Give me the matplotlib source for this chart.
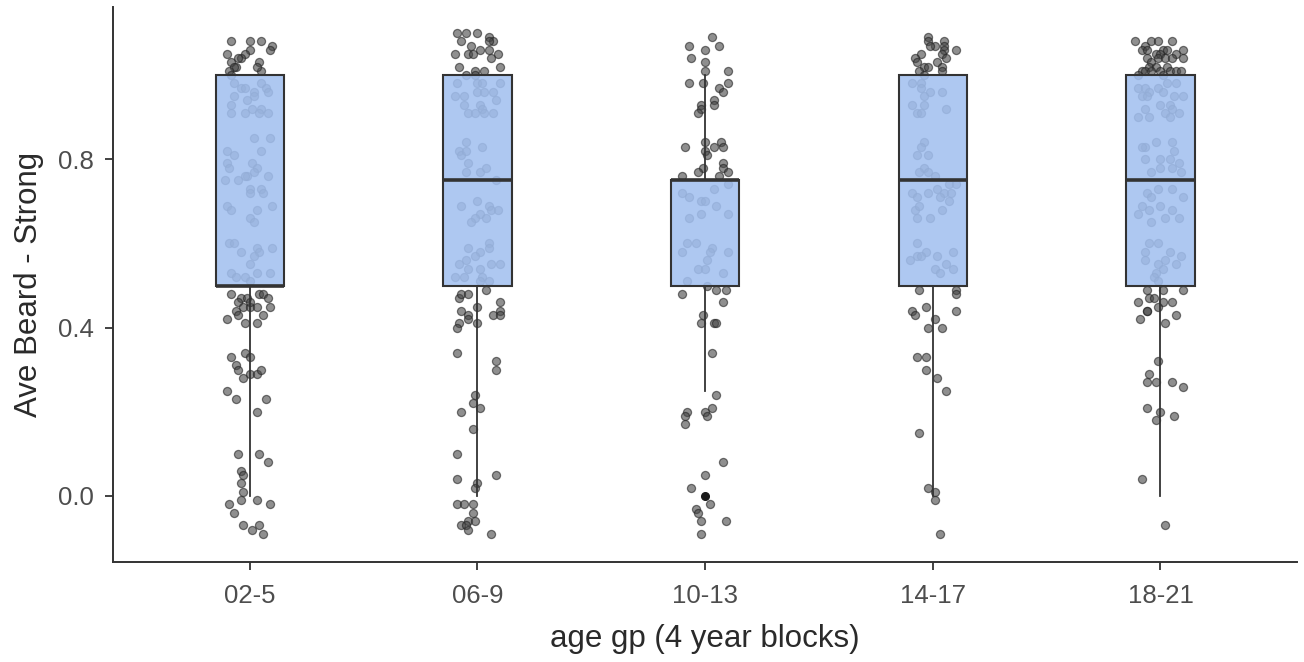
import matplotlib
matplotlib.use("Agg")
import matplotlib.pyplot as plt

plt.rcParams['font.family'] = ['Liberation Sans', 'DejaVu Sans']

# categories and box statistics
groups = ["02-5", "06-9", "10-13", "14-17", "18-21"]
q1s = [0.5, 0.5, 0.5, 0.5, 0.5]
medians = [0.5, 0.75, 0.75, 0.75, 0.75]
q3s = [1.0, 1.0, 0.75, 1.0, 1.0]
whisk_lo = [0.0, 0.0, 0.25, 0.0, 0.0]
whisk_hi = [1.0, 1.0, 1.0, 1.0, 1.0]
outliers = [[], [], [0.0], [], []]

yticks = [0.0, 0.4, 0.8]

# jittered observations: (x offset from group centre, value)
pts_02_5 = [
    (-0.08, 1.08), (0.00, 1.08), (0.05, 1.08), (0.10, 1.07), (0.09, 1.06), (-0.10, 1.05),
    (0.00, 1.06), (-0.02, 1.05), (-0.04, 1.04), (-0.08, 1.03), (-0.06, 1.02), (-0.07, 1.02),
    (-0.09, 1.01), (-0.08, 1.00), (0.04, 1.03), (0.05, 1.01), (0.03, 1.02), (-0.05, 1.04),
    (-0.07, 0.98), (-0.04, 0.97), (-0.02, 0.97), (0.05, 0.98), (0.07, 0.97), (0.08, 0.96),
    (0.02, 0.96), (0.02, 0.95), (-0.07, 0.95), (-0.08, 0.93), (-0.01, 0.94), (0.01, 0.92),
    (0.05, 0.92), (0.04, 0.91), (0.08, 0.91), (-0.08, 0.91), (-0.02, 0.91), (0.02, 0.85),
    (0.09, 0.85), (0.05, 0.82), (-0.10, 0.82), (-0.07, 0.81), (-0.10, 0.79), (-0.09, 0.78),
    (0.01, 0.79), (0.03, 0.78), (0.02, 0.77), (-0.01, 0.76), (-0.02, 0.76), (0.08, 0.76),
    (-0.11, 0.75), (-0.05, 0.75), (0.05, 0.73), (0.06, 0.72), (0.00, 0.73), (0.00, 0.72),
    (0.10, 0.69), (-0.10, 0.69), (-0.08, 0.68), (0.03, 0.68), (0.00, 0.66), (0.02, 0.65),
    (-0.09, 0.60), (-0.07, 0.60), (-0.04, 0.58), (0.03, 0.59), (0.04, 0.58), (0.02, 0.57),
    (0.10, 0.59), (-0.08, 0.53), (-0.06, 0.52), (0.00, 0.55), (0.03, 0.53), (0.09, 0.53),
    (-0.02, 0.52), (0.00, 0.51),
    (-0.08, 0.48), (-0.04, 0.47), (-0.01, 0.47), (0.04, 0.48), (0.06, 0.48), (0.08, 0.47),
    (-0.05, 0.46), (-0.03, 0.45), (0.00, 0.45), (0.03, 0.45), (0.09, 0.45), (-0.06, 0.44),
    (-0.05, 0.43), (-0.10, 0.42), (-0.02, 0.41), (0.03, 0.41), (0.06, 0.43), (0.00, 0.46),
    (-0.08, 0.33), (-0.02, 0.34), (0.00, 0.33), (-0.06, 0.31), (-0.05, 0.30), (-0.03, 0.28),
    (0.00, 0.29), (0.03, 0.29), (0.05, 0.30), (-0.10, 0.25), (-0.06, 0.23), (0.07, 0.23),
    (0.03, 0.20), (-0.05, 0.10), (0.04, 0.10), (0.08, 0.08), (-0.04, 0.06), (-0.03, 0.05),
    (-0.04, 0.03), (-0.03, 0.01), (-0.04, -0.01), (-0.09, -0.02), (0.03, -0.01), (0.09, -0.02),
    (-0.07, -0.04), (-0.03, -0.07), (0.01, -0.08), (0.04, -0.07), (0.06, -0.09),
]

pts_06_9 = [
    (-0.09, 1.10), (-0.05, 1.10), (0.00, 1.10), (0.05, 1.09), (0.07, 1.08), (-0.07, 1.08),
    (-0.03, 1.07), (0.01, 1.06), (0.05, 1.06), (-0.10, 1.05), (-0.04, 1.05), (-0.02, 1.05),
    (0.09, 1.05), (0.06, 1.04), (0.10, 1.02), (-0.08, 1.02), (-0.05, 1.00), (-0.01, 1.01),
    (-0.01, 1.00), (0.03, 1.01), (0.05, 1.08),
    (-0.09, 0.98), (0.00, 0.98), (0.02, 0.98), (0.10, 0.98), (-0.10, 0.95), (-0.06, 0.95),
    (0.00, 0.96), (0.03, 0.96), (0.07, 0.96), (0.08, 0.94), (-0.06, 0.93), (0.01, 0.93),
    (0.02, 0.92), (-0.04, 0.91), (-0.01, 0.91), (0.03, 0.91), (0.07, 0.91), (-0.05, 0.84),
    (0.02, 0.83), (-0.08, 0.82), (-0.07, 0.81), (-0.05, 0.82), (-0.04, 0.79), (-0.05, 0.77),
    (0.01, 0.77), (0.04, 0.78), (0.08, 0.75), (-0.07, 0.69), (0.00, 0.70), (0.05, 0.69),
    (0.06, 0.68), (0.09, 0.68), (0.01, 0.67), (-0.01, 0.66), (-0.03, 0.65), (0.04, 0.66),
    (-0.04, 0.59), (0.05, 0.60), (0.05, 0.59), (0.01, 0.58), (-0.01, 0.57), (-0.05, 0.56),
    (-0.08, 0.55), (-0.04, 0.54), (0.01, 0.54), (0.06, 0.55), (0.10, 0.55), (-0.10, 0.52),
    (-0.06, 0.52), (0.02, 0.52), (0.05, 0.51), (0.01, 0.51),
    (-0.08, 0.47), (-0.07, 0.48), (-0.04, 0.48), (0.04, 0.49), (0.10, 0.46), (0.00, 0.45),
    (-0.07, 0.44), (-0.04, 0.43), (-0.04, 0.42), (-0.08, 0.41), (-0.09, 0.40), (0.00, 0.41),
    (0.07, 0.43), (0.10, 0.44), (0.10, 0.43), (-0.09, 0.34), (0.08, 0.32), (0.08, 0.30),
    (-0.01, 0.24), (-0.02, 0.22), (0.01, 0.21), (-0.07, 0.20), (-0.02, 0.16), (-0.09, 0.10),
    (-0.09, 0.04), (0.08, 0.05), (0.00, 0.03), (-0.01, 0.02), (-0.09, -0.02), (-0.06, -0.02),
    (-0.02, -0.02), (-0.02, -0.04), (-0.04, -0.06), (-0.01, -0.06), (-0.07, -0.07), (-0.05, -0.07),
    (-0.04, -0.08), (0.06, -0.09),
]

pts_10_13 = [
    (0.03, 1.09), (-0.07, 1.07), (0.06, 1.07), (0.00, 1.06), (-0.06, 1.04), (0.00, 1.03),
    (0.10, 1.01), (0.00, 1.01), (-0.07, 0.98), (-0.01, 0.98), (0.06, 0.97), (0.10, 0.98),
    (0.08, 0.96), (-0.02, 0.93), (0.04, 0.94), (0.04, 0.93), (-0.02, 0.92), (-0.03, 0.91),
    (-0.09, 0.83), (0.00, 0.84), (0.04, 0.83), (0.07, 0.84), (0.08, 0.83), (0.00, 0.82),
    (0.01, 0.81), (0.08, 0.79), (-0.01, 0.78), (-0.03, 0.77), (0.08, 0.78), (0.10, 0.77),
    (0.06, 0.76), (-0.10, 0.76),
    (-0.10, 0.72), (-0.07, 0.71), (-0.02, 0.70), (0.00, 0.70), (0.04, 0.73), (0.10, 0.74),
    (0.05, 0.69), (-0.02, 0.67), (-0.07, 0.66), (0.10, 0.67), (-0.08, 0.60), (-0.04, 0.60),
    (0.03, 0.59), (-0.10, 0.58), (0.02, 0.58), (0.01, 0.56), (0.10, 0.58), (-0.03, 0.54),
    (0.00, 0.54), (0.08, 0.53), (-0.08, 0.51), (0.01, 0.50),
    (-0.10, 0.48), (0.05, 0.49), (0.09, 0.49), (0.08, 0.46), (-0.01, 0.43), (-0.02, 0.41),
    (0.04, 0.41), (0.05, 0.41), (0.03, 0.34), (0.05, 0.24), (0.03, 0.21), (-0.08, 0.20),
    (-0.09, 0.19), (0.00, 0.20), (0.01, 0.19), (-0.09, 0.17), (0.08, 0.08), (0.00, 0.05),
    (-0.06, 0.02), (0.02, -0.02), (-0.04, -0.03), (-0.03, -0.04), (-0.02, -0.06), (0.09, -0.06),
    (-0.02, -0.09),
]

pts_14_17 = [
    (-0.02, 1.09), (-0.02, 1.08), (0.01, 1.07), (0.05, 1.08), (0.05, 1.07), (0.10, 1.06),
    (0.05, 1.06), (0.04, 1.05), (0.06, 1.04), (-0.05, 1.05), (-0.08, 1.04), (-0.07, 1.03),
    (-0.04, 1.02), (-0.02, 1.02), (0.02, 1.03), (0.04, 1.02), (-0.06, 1.01), (0.04, 1.01),
    (-0.04, 1.00), (-0.01, 1.07),
    (-0.09, 0.98), (-0.05, 0.98), (-0.05, 0.97), (-0.01, 0.96), (0.04, 0.96), (-0.04, 0.95),
    (-0.09, 0.93), (-0.04, 0.93), (-0.07, 0.91), (-0.05, 0.91), (0.06, 0.92), (-0.04, 0.84),
    (-0.05, 0.83), (-0.07, 0.81), (-0.02, 0.81), (-0.04, 0.78), (-0.06, 0.77), (-0.02, 0.77),
    (0.01, 0.76), (0.07, 0.74), (0.10, 0.74), (-0.09, 0.72), (-0.07, 0.71), (-0.02, 0.72),
    (0.02, 0.73), (0.05, 0.72), (0.08, 0.72), (0.03, 0.71), (0.07, 0.70), (-0.08, 0.68),
    (-0.06, 0.69), (0.04, 0.68), (-0.07, 0.66), (-0.01, 0.66), (-0.07, 0.60), (-0.03, 0.58),
    (-0.07, 0.57), (-0.05, 0.57), (-0.10, 0.56), (0.02, 0.57), (0.09, 0.58), (0.06, 0.55),
    (0.09, 0.54), (0.01, 0.54), (0.03, 0.53),
    (-0.06, 0.49), (0.10, 0.49), (0.10, 0.48), (-0.03, 0.45), (-0.09, 0.44), (-0.08, 0.43),
    (0.10, 0.44), (0.01, 0.42), (-0.02, 0.40), (0.04, 0.40), (-0.07, 0.33), (-0.03, 0.33),
    (-0.03, 0.30), (0.02, 0.28), (0.06, 0.25), (-0.06, 0.15), (-0.02, 0.02), (0.01, 0.01),
    (0.01, -0.01), (0.03, -0.09),
]

pts_18_21 = [
    (-0.11, 1.08), (-0.07, 1.07), (-0.04, 1.08), (-0.01, 1.08), (0.05, 1.08), (0.10, 1.06),
    (-0.08, 1.06), (-0.06, 1.06), (-0.02, 1.05), (0.01, 1.06), (0.03, 1.06), (0.00, 1.05),
    (0.07, 1.05), (0.10, 1.04), (-0.06, 1.04), (-0.04, 1.03), (-0.01, 1.04), (0.02, 1.04),
    (0.05, 1.04), (-0.05, 1.02), (-0.02, 1.02), (0.03, 1.02), (-0.08, 1.01), (-0.07, 1.01),
    (-0.04, 1.01), (0.00, 1.01), (0.04, 1.01), (0.07, 1.01), (0.09, 1.01), (-0.10, 1.00),
    (0.01, 1.00),
    (-0.10, 0.97), (-0.07, 0.97), (-0.01, 0.97), (0.03, 0.98), (0.07, 0.98), (-0.05, 0.96),
    (0.01, 0.96), (0.06, 0.95), (0.10, 0.95), (-0.08, 0.95), (-0.06, 0.95), (0.00, 0.93),
    (0.04, 0.93), (0.05, 0.92), (-0.07, 0.92), (0.02, 0.91), (0.04, 0.90), (-0.10, 0.90),
    (-0.05, 0.90), (0.08, 0.91), (-0.07, 0.83), (-0.02, 0.84), (0.05, 0.84), (-0.08, 0.83),
    (0.06, 0.82), (-0.07, 0.80), (0.00, 0.80), (0.04, 0.80), (0.08, 0.79), (-0.04, 0.77),
    (0.00, 0.78), (0.05, 0.78), (0.09, 0.77), (-0.06, 0.72), (-0.01, 0.73), (0.05, 0.73),
    (-0.04, 0.71), (0.10, 0.71), (-0.08, 0.69), (0.00, 0.69), (0.05, 0.68), (-0.05, 0.68),
    (-0.10, 0.67), (0.02, 0.66), (0.08, 0.66), (-0.04, 0.65), (-0.05, 0.60), (-0.01, 0.60),
    (-0.07, 0.58), (0.04, 0.58), (0.09, 0.57), (-0.07, 0.56), (0.02, 0.56), (0.07, 0.55),
    (-0.01, 0.55), (0.01, 0.54), (-0.02, 0.53), (-0.03, 0.52), (-0.01, 0.51),
    (-0.06, 0.49), (0.01, 0.49), (0.10, 0.49), (-0.05, 0.47), (-0.03, 0.47), (-0.10, 0.46),
    (0.01, 0.46), (0.05, 0.46), (-0.06, 0.44), (-0.06, 0.44), (-0.01, 0.45), (0.07, 0.43),
    (-0.09, 0.42), (0.02, 0.41), (-0.01, 0.32), (-0.05, 0.29), (-0.06, 0.27), (-0.02, 0.27),
    (0.05, 0.27), (0.10, 0.26), (-0.06, 0.21), (0.00, 0.20), (-0.02, 0.18), (0.06, 0.19),
    (-0.08, 0.04), (0.02, -0.07),
]

jitter_points = [pts_02_5, pts_06_9, pts_10_13, pts_14_17, pts_18_21]

fig = plt.figure(figsize=(13.04, 6.62), dpi=100)
ax = fig.add_axes([0.0867, 0.151, 0.908, 0.838])

# jittered points under the boxes
for i, pts in enumerate(jitter_points):
    xs = [i + 1 + dx for dx, _ in pts]
    ys = [y for _, y in pts]
    ax.scatter(xs, ys, s=34, facecolor='#444444', edgecolor='#222222',
               linewidths=0.9, alpha=0.6, zorder=1)

# boxes from the summary statistics
stats = []
for i, g in enumerate(groups):
    stats.append(dict(label=g, q1=q1s[i], med=medians[i], q3=q3s[i],
                      whislo=whisk_lo[i], whishi=whisk_hi[i], fliers=outliers[i]))

bp = ax.bxp(stats, positions=range(1, len(groups) + 1), widths=0.3,
            patch_artist=True, showcaps=False,
            boxprops=dict(facecolor=(0.635, 0.753, 0.941, 0.87),
                          edgecolor='#333333', linewidth=1.5),
            medianprops=dict(color='#333333', linewidth=2.6, solid_capstyle='butt'),
            whiskerprops=dict(color='#333333', linewidth=1.3),
            flierprops=dict(marker='o', markersize=5.5, markerfacecolor='#1a1a1a',
                            markeredgecolor='#1a1a1a'))
for art in bp['boxes']:
    art.set_zorder(2)
for art in bp['medians'] + bp['whiskers'] + bp['fliers']:
    art.set_zorder(3)

ax.set_xlim(0.4, 5.6)
ax.set_ylim(-0.157, 1.161)
ax.set_xticks(range(1, len(groups) + 1))
ax.set_xticklabels(groups)
ax.set_yticks(yticks)
ax.set_yticklabels([f"{v:.1f}" for v in yticks])

for side in ['top', 'right']:
    ax.spines[side].set_visible(False)
for side in ['left', 'bottom']:
    ax.spines[side].set_color('#333333')
    ax.spines[side].set_linewidth(1.4)

ax.tick_params(axis='both', length=6, width=1.3, color='#333333',
               labelcolor='#4d4d4d', labelsize=18.5)
ax.tick_params(axis='y', pad=8)
ax.tick_params(axis='x', pad=10)

ax.set_xlabel("age gp (4 year blocks)", fontsize=22.5, color='#2a2a2a', labelpad=11)
ax.set_ylabel("Ave Beard - Strong", fontsize=22.5, color='#2a2a2a', labelpad=10)

fig.savefig("out.png", dpi=100)
